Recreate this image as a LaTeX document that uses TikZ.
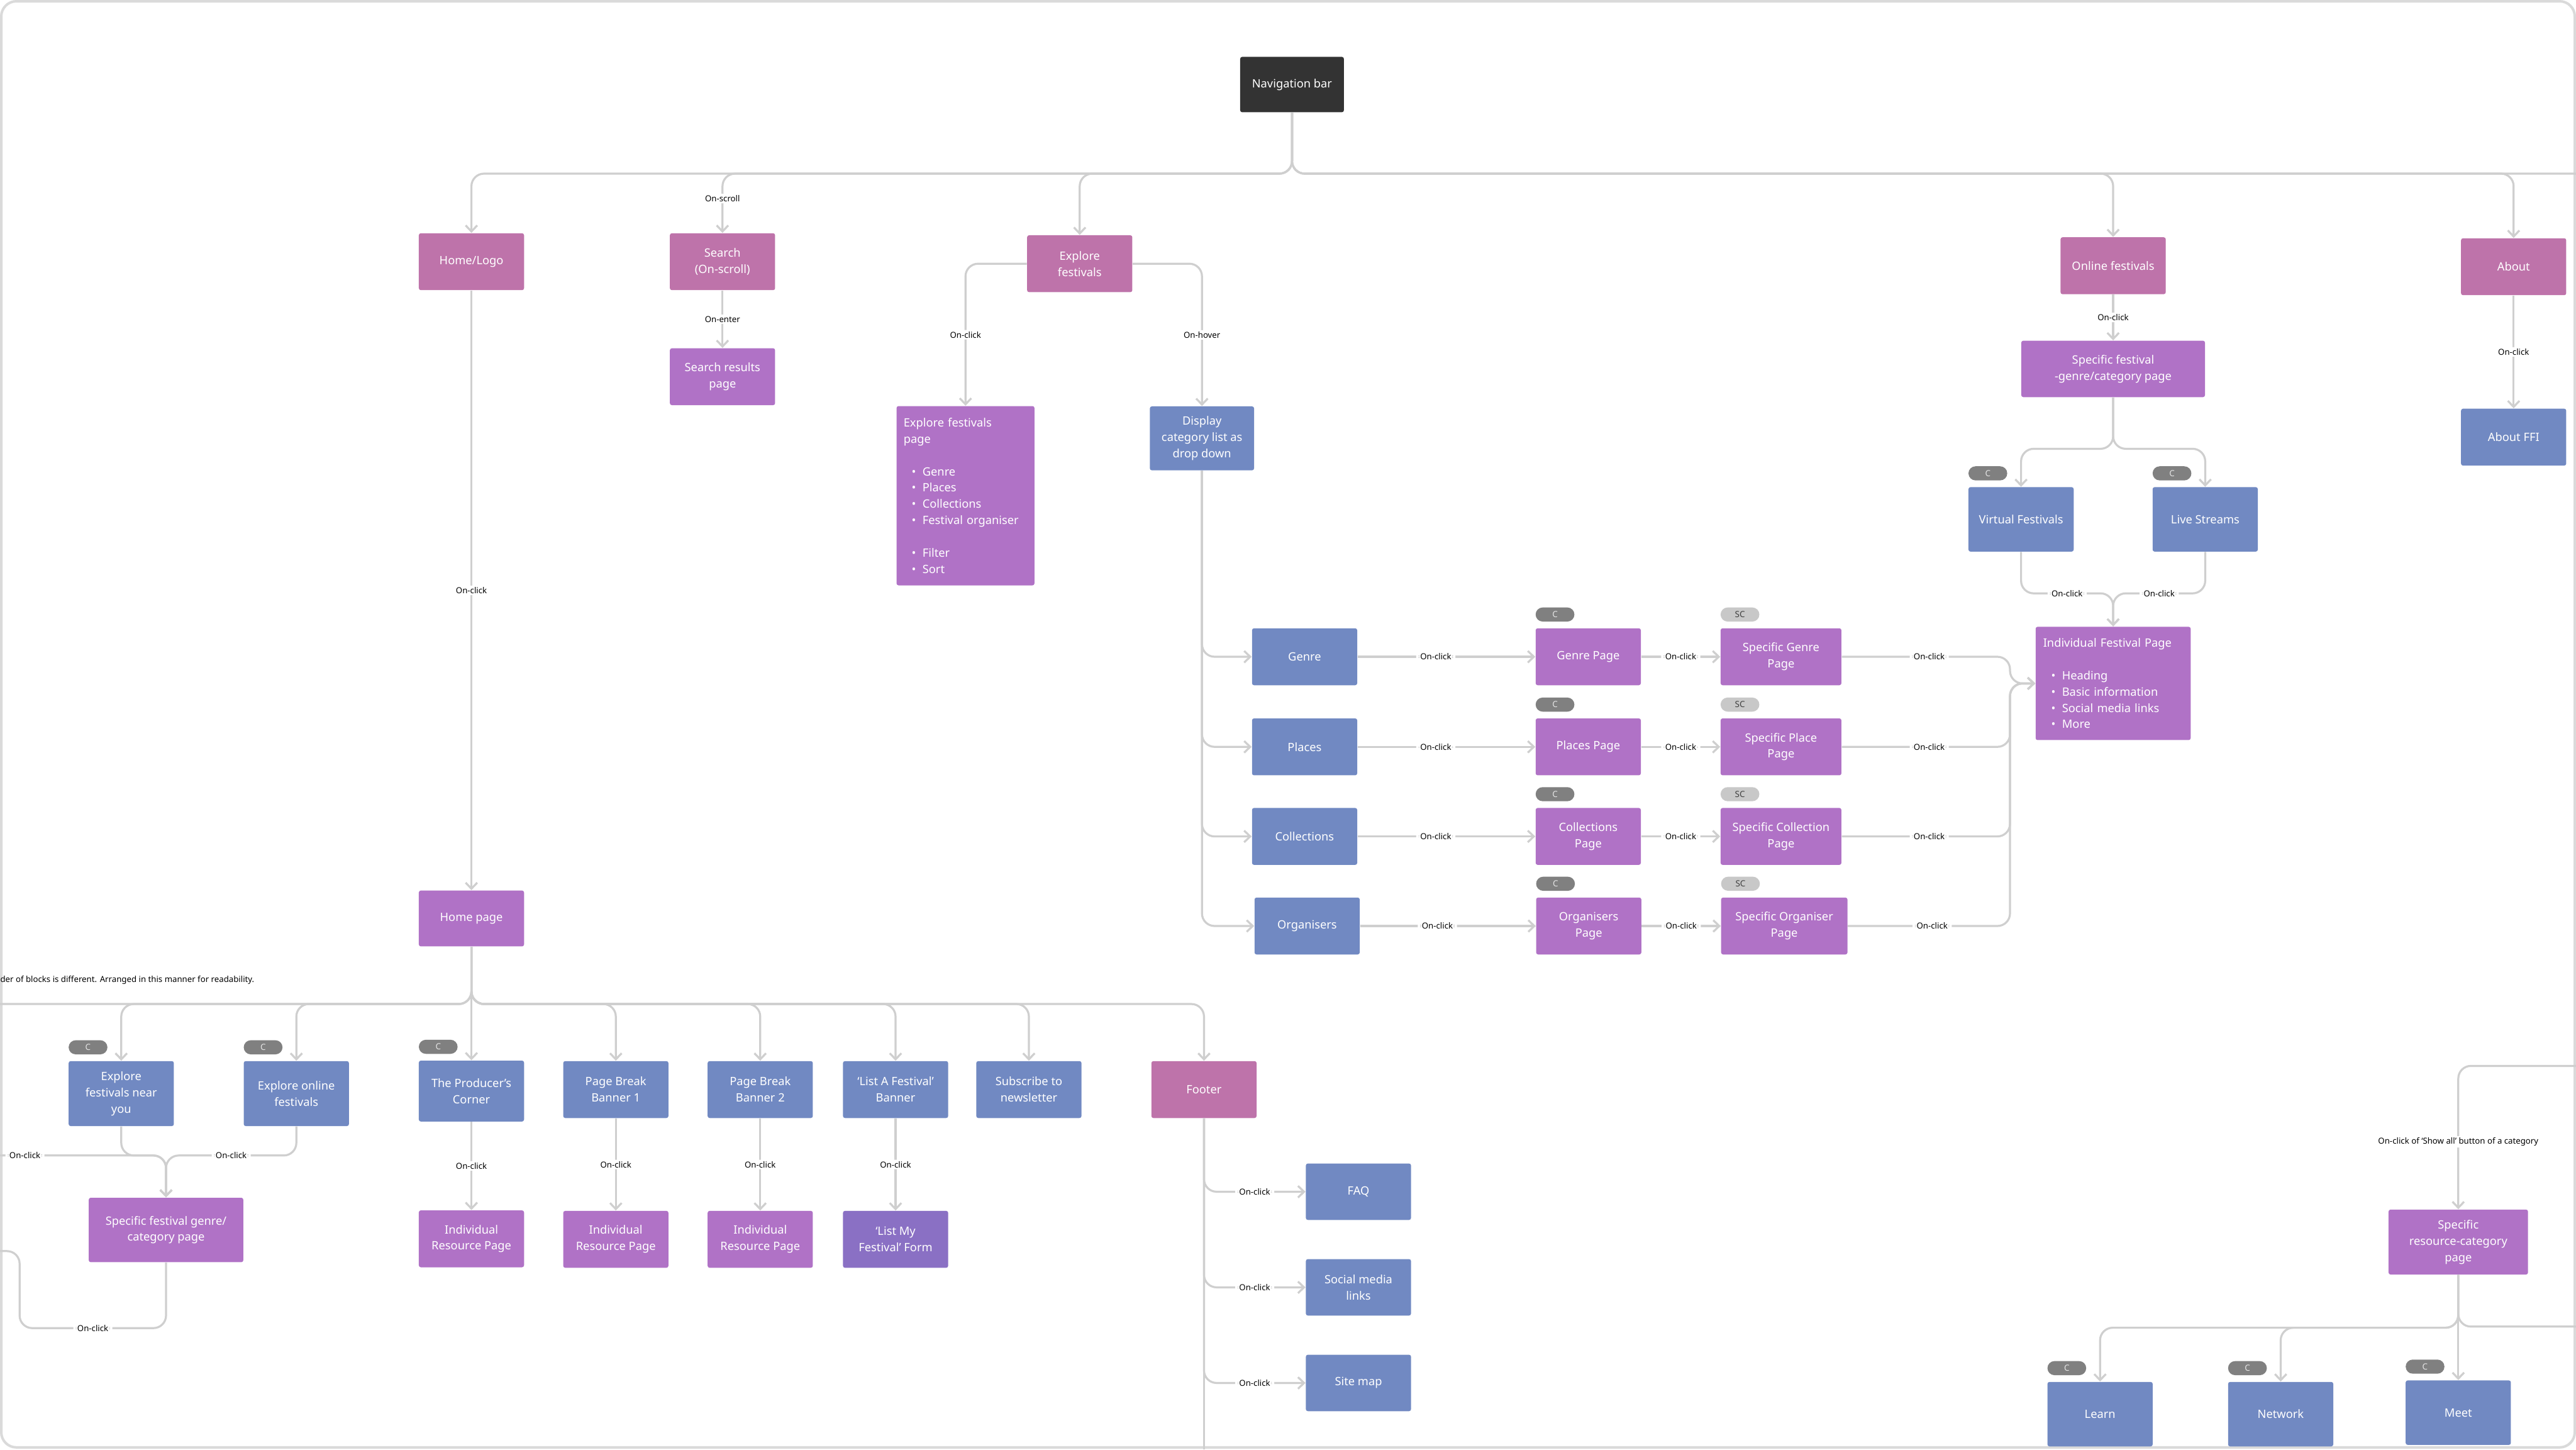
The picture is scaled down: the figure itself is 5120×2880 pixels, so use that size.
\documentclass[tikz,border=0pt]{standalone}
\usepackage{fontspec}
\setmainfont{Noto Sans}
\usepackage{tikz}
\usetikzlibrary{arrows.meta, positioning}

\definecolor{navdark}{HTML}{333333}
\definecolor{pagepink}{HTML}{BE73AA}
\definecolor{pagepurple}{HTML}{B072C6}
\definecolor{pageblue}{HTML}{7189C2}
\definecolor{formviolet}{HTML}{8A70C4}
\definecolor{linegray}{HTML}{CFCFCF}
\definecolor{framegray}{HTML}{DADADA}
\definecolor{cgray}{HTML}{808080}
\definecolor{scgray}{HTML}{C8C8C8}

\newcommand{\blt}{\hspace*{1.6mm}\textbullet\hspace{1.3mm}}

\begin{document}
\begin{tikzpicture}[x=0.01cm, y=-0.01cm,
        pg/.style={rectangle, rounded corners=0.4mm, text=white,
                   minimum width=2.09cm, minimum height=1.13cm, align=center,
                   inner sep=1mm, font=\fontsize{6.5}{9.2}\selectfont},
        navbox/.style={pg, fill=navdark, minimum width=2.06cm, minimum height=1.1cm},
        pinkpg/.style={pg, fill=pagepink},
        purppg/.style={pg, fill=pagepurple},
        bluepg/.style={pg, fill=pageblue},
        formpg/.style={pg, fill=formviolet},
        cbadge/.style={rectangle, rounded corners=1.4mm, fill=cgray, text=white!90!black,
                       minimum width=0.77cm, minimum height=0.28cm, inner sep=0pt,
                       font=\fontsize{4.8}{5}\selectfont},
        scbadge/.style={cbadge, fill=scgray, text=black!75},
        link/.style={draw=linegray, line width=0.4mm, rounded corners=2.5mm},
        arr/.style={link, -{Straight Barb[length=1.2mm, width=2.3mm]}},
        lbl/.style={fill=white, text=black, inner xsep=0.8mm, inner ysep=0.3mm,
                    font=\fontsize{4.7}{5}\selectfont},
        note/.style={text=black, inner sep=0pt, font=\fontsize{4.7}{5}\selectfont}
    ]
    \useasboundingbox (0,0) rectangle (5120,2880);
    \fill[white] (0,0) rectangle (5120,2880);
    \draw[framegray, line width=0.5mm, rounded corners=3mm] (2.5,2.5) rectangle (5117.5,2876);

    % navigation
    \node[navbox] (nav) at (2568,168) {Navigation bar};
    \node[pinkpg] (home) at (937,520) {Home/Logo};
    \node[pinkpg] (search) at (1436,520) {Search\\(On-scroll)};
    \node[purppg, below=1.14cm of search] (results) {Search results\\page};
    \node[pinkpg] (explore) at (2146,524) {Explore\\festivals};
    \node[purppg, minimum width=2.74cm, minimum height=3.56cm, text width=2.46cm, align=left]
        (efpage) at (1919,985) {Explore festivals\\page\\[9.2pt]\blt Genre\\\blt Places\\\blt Collections\\\blt Festival organiser\\[9.2pt]\blt Filter\\\blt Sort};
    \node[bluepg, minimum width=2.07cm, minimum height=1.27cm] (display) at (2389,871) {Display\\category list as\\drop down};
    \node[pinkpg] (online) at (4200,528) {Online festivals};
    \node[purppg, minimum width=3.65cm, minimum height=1.12cm, below=0.91cm of online] (sfgc) {Specific festival\\-genre/category page};
    \node[bluepg, minimum height=1.28cm] (virtual) at (4017,1032) {Virtual Festivals};
    \node[bluepg, minimum height=1.28cm] (live) at (4383,1032) {Live Streams};
    \node[purppg, minimum width=3.08cm, minimum height=2.25cm, text width=2.78cm, align=left]
        (ifp) at (4200,1358) {Individual Festival Page\\[9.2pt]\blt Heading\\\blt Basic information\\\blt Social media links\\\blt More};
    \node[pinkpg] (about) at (4996,530) {About};
    \node[bluepg, below=2.24cm of about] (aboutffi) {About FFI};

    % categories
    \node[bluepg] (genre) at (2593,1305) {Genre};
    \node[purppg, right=3.53cm of genre] (genrepg) {Genre Page};
    \node[purppg, minimum width=2.4cm, right=1.57cm of genrepg] (sgenre) {Specific Genre\\Page};
    \node[bluepg] (places) at (2593,1484) {Places};
    \node[purppg, right=3.53cm of places] (placespg) {Places Page};
    \node[purppg, minimum width=2.4cm, right=1.57cm of placespg] (splace) {Specific Place\\Page};
    \node[bluepg] (colls) at (2593,1662) {Collections};
    \node[purppg, right=3.53cm of colls] (collspg) {Collections\\Page};
    \node[purppg, minimum width=2.4cm, right=1.57cm of collspg] (scoll) {Specific Collection\\Page};
    \node[bluepg] (orgs) at (2598,1840) {Organisers};
    \node[purppg, right=3.49cm of orgs] (orgspg) {Organisers\\Page};
    \node[purppg, minimum width=2.51cm, right=1.57cm of orgspg] (sorg) {Specific Organiser\\Page};

    % home page
    \node[purppg, minimum height=1.11cm] (homepg) at (937,1825) {Home page};
    \node[note, anchor=west] (order) at (0,1948) {der of blocks is different. Arranged in this manner for readability.};
    \node[bluepg, minimum height=1.29cm] (nearyou) at (241,2173) {Explore\\festivals near\\you};
    \node[bluepg, minimum height=1.29cm] (onlinefest) at (589,2173) {Explore online\\festivals};
    \node[bluepg, minimum height=1.21cm] (producer) at (937,2168) {The Producer’s\\Corner};
    \node[bluepg] (pb1) at (1224,2165) {Page Break\\Banner 1};
    \node[bluepg] (pb2) at (1511,2165) {Page Break\\Banner 2};
    \node[bluepg] (laf) at (1780,2165) {‘List A Festival’\\Banner};
    \node[bluepg] (subscribe) at (2045,2165) {Subscribe to\\newsletter};
    \node[pinkpg] (footer) at (2393,2165) {Footer};
    \node[purppg, below=1.75cm of producer] (res1) {Individual\\Resource Page};
    \node[purppg, below=1.83cm of pb1] (res2) {Individual\\Resource Page};
    \node[purppg, below=1.83cm of pb2] (res3) {Individual\\Resource Page};
    \node[formpg, below=1.83cm of laf] (lmf) {‘List My\\Festival’ Form};
    \node[purppg, minimum width=3.07cm, minimum height=1.28cm] (sfg) at (330,2444) {Specific festival genre/\\category page};
    \node[bluepg, minimum height=1.12cm] (faq) at (2700,2368) {FAQ};
    \node[bluepg, minimum height=1.12cm] (social) at (2700,2558) {Social media\\links};
    \node[bluepg, minimum height=1.12cm] (sitemap) at (2700,2748) {Site map};

    % resources
    \node[purppg, minimum width=2.77cm, minimum height=1.29cm] (srcp) at (4886,2468) {Specific\\resource-category\\page};
    \node[bluepg, minimum height=1.28cm] (learn) at (4174,2810) {Learn};
    \node[bluepg, minimum height=1.28cm] (network) at (4533,2810) {Network};
    \node[bluepg, minimum height=1.28cm] (meet) at (4886,2807) {Meet};

    \foreach \n in {genrepg, placespg, collspg, orgspg, virtual, live, nearyou, onlinefest, producer, learn, network, meet}
        \node[cbadge, above right=1.2mm and 0mm of \n.north west] (c\n) {C};
    \foreach \n in {sgenre, splace, scoll, sorg}
        \node[scbadge, above right=1.2mm and 0mm of \n.north west] (sc\n) {SC};

    \coordinate (bus) at (2568,345);
    \coordinate (navout) at (5120,345);
    \coordinate (ifpin) at (3995,1358);
    \coordinate (vmerge) at (4200,1179);
    \coordinate (hbus) at (937,1995);
    \coordinate (hbusout) at (0,1995);
    \coordinate (nmerge) at (330,2296);
    \coordinate (nin) at (0,2296);
    \coordinate (sfgout) at (0,2486);
    \coordinate (footout) at (2393,2880);
    \coordinate (rin) at (5120,2118);
    \coordinate (rout) at (5120,2636);

    \draw[link] (nav.south) -- (bus) -- (navout);
    \draw[arr] (nav.south) -- (bus) -| (home.north);
    \draw[arr] (nav.south) -- (bus) -| (search.north) node[lbl, pos=0.71] {On-scroll};
    \draw[arr] (nav.south) -- (bus) -| (explore.north);
    \draw[arr] (nav.south) -- (bus) -| (online.north);
    \draw[arr] (nav.south) -- (bus) -| (about.north);
    \draw[arr] (search) -- node[lbl] {On-enter} (results);
    \draw[arr] (explore.west) -| (efpage.north) node[lbl, pos=0.75] {On-click};
    \draw[arr] (explore.east) -| (display.north) node[lbl, pos=0.75] {On-hover};
    \draw[arr] (home) -- node[lbl] {On-click} (homepg);
    \draw[arr] (online) -- node[lbl] {On-click} (sfgc);
    \draw[arr] (about) -- node[lbl] {On-click} (aboutffi);
    \draw[arr] (sfgc.south) -- ++(0,102) -| (virtual.north);
    \draw[arr] (sfgc.south) -- ++(0,102) -| (live.north);
    \draw[arr] (virtual.south) |- (vmerge) node[lbl, pos=0.75] {On-click} -- (ifp.north);
    \draw[arr] (live.south) |- (vmerge) node[lbl, pos=0.75] {On-click} -- (ifp.north);

    \foreach \r in {genre, places, colls, orgs}
        \draw[arr] (display.south) |- (\r.west);
    \foreach \a/\b/\c in {genre/genrepg/sgenre, places/placespg/splace, colls/collspg/scoll, orgs/orgspg/sorg} {
        \draw[arr] (\a) -- node[lbl, pos=0.44] {On-click} (\b);
        \draw[arr] (\b) -- node[lbl] {On-click} (\c);
        \draw[arr] (\c.east) -| (ifpin) node[lbl, pos=0.26] {On-click} -- (ifp.west);
    }

    \draw[link] (homepg.south) -- (hbus) -- (hbusout);
    \draw[arr] (homepg) -- (producer);
    \foreach \t in {nearyou, onlinefest, pb1, pb2, laf, subscribe, footer}
        \draw[arr] (homepg.south) -- (hbus) -| (\t.north);
    \draw[arr] (nearyou.south) |- (nmerge) -- (sfg.north);
    \draw[arr] (onlinefest.south) |- (nmerge) node[lbl, pos=0.75] {On-click} -- (sfg.north);
    \draw[arr] (nin) -- node[lbl, pos=0.15] {On-click} (nmerge) -- (sfg.north);
    \draw[link] (sfg.south) |- (39,2639) node[lbl, pos=0.75] {On-click} |- (sfgout);
    \foreach \s/\t in {producer/res1, pb1/res2, pb2/res3, laf/lmf}
        \draw[arr] (\s) -- node[lbl] {On-click} (\t);
    \draw[link] (footer) -- (footout);
    \foreach \t in {faq, social, sitemap}
        \draw[arr] (footer.south) |- (\t.west) node[lbl, pos=0.75] {On-click};

    \draw[arr] (rin) -| (srcp.north) node[lbl, pos=0.765] {On-click of ‘Show all’ button of a category};
    \draw[link] (srcp.south) |- (rout);
    \draw[arr] (srcp.south) -- ++(0,105) -| (learn.north);
    \draw[arr] (srcp.south) -- ++(0,105) -| (network.north);
    \draw[arr] (srcp) -- (meet);
\end{tikzpicture}
\end{document}
